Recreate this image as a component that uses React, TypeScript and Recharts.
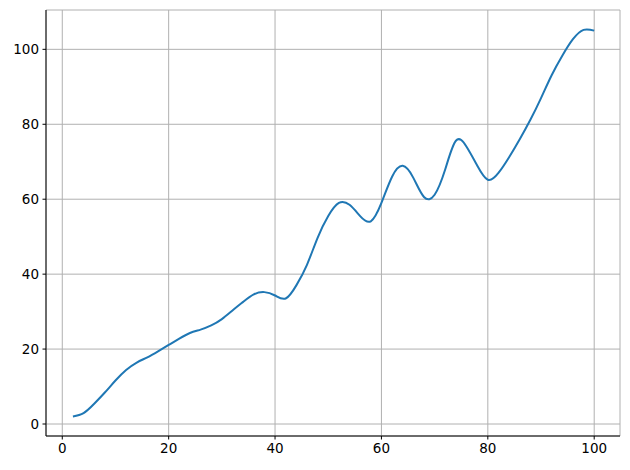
import React from "react";
import {
  LineChart, Line, XAxis, YAxis, CartesianGrid,
} from "recharts";

// sampled every 2 units along x
const xValues = [
  2, 4, 6, 8, 10, 12, 14, 16, 18, 20,
  22, 24, 26, 28, 30, 32, 34, 36, 38, 40,
  42, 44, 46, 48, 50, 52, 54, 56, 58, 60,
  62, 64, 66, 68, 70, 72, 74, 76, 78, 80,
  82, 84, 86, 88, 90, 92, 94, 96, 98, 100,
];
const yValues = [
  2.0, 2.9, 5.4, 8.4, 11.6, 14.4, 16.4, 17.8, 19.4, 21.1,
  22.8, 24.3, 25.2, 26.3, 28.0, 30.3, 32.6, 34.6, 35.2, 34.3,
  33.5, 37.0, 42.5, 49.7, 55.5, 59.0, 58.5, 55.5, 54.1, 59.0,
  66.0, 68.9, 65.7, 60.6, 61.2, 68.0, 75.6, 74.0, 69.0, 65.2,
  67.0, 71.2, 76.0, 81.2, 87.0, 93.1, 98.3, 102.7, 105.2, 105.0,
];
const xTicks = [0, 20, 40, 60, 80, 100];
const yTicks = [0, 20, 40, 60, 80, 100];

const data = xValues.map((x, i) => ({ x, y: yValues[i] }));

const tickStyle = { fontSize: 13.5, fill: "#000", fontFamily: "DejaVu Sans" };

export default function App() {
  return (
    <div style={{ position: "absolute", left: 0, top: 0, background: "#fff" }}>
      <LineChart
        width={630}
        height={470}
        data={data}
        margin={{ top: 10, right: 10, left: 0, bottom: 0 }}
      >
        <CartesianGrid stroke="#b0b0b0" strokeWidth={1} />
        <XAxis
          dataKey="x"
          type="number"
          domain={[-3.06, 104.85]}
          ticks={xTicks}
          allowDataOverflow
          height={34}
          tick={tickStyle}
          tickSize={3.5}
          tickMargin={3.5}
          axisLine={{ stroke: "#000", strokeWidth: 1 }}
          tickLine={{ stroke: "#000", strokeWidth: 1 }}
        />
        <XAxis
          xAxisId="top"
          orientation="top"
          dataKey="x"
          type="number"
          domain={[-3.06, 104.85]}
          height={0}
          tick={false}
          tickLine={false}
          axisLine={{ stroke: "#000", strokeWidth: 1 }}
        />
        <YAxis
          type="number"
          domain={[-3.2, 110.5]}
          ticks={yTicks}
          allowDataOverflow
          width={46}
          tick={tickStyle}
          tickSize={3.5}
          tickMargin={3.5}
          axisLine={{ stroke: "#000", strokeWidth: 1 }}
          tickLine={{ stroke: "#000", strokeWidth: 1 }}
        />
        <YAxis
          yAxisId="right"
          orientation="right"
          type="number"
          domain={[-3.2, 110.5]}
          width={0}
          tick={false}
          tickLine={false}
          axisLine={{ stroke: "#000", strokeWidth: 1 }}
        />
        <Line
          type="natural"
          dataKey="y"
          stroke="#1f77b4"
          strokeWidth={2}
          dot={false}
          isAnimationActive={false}
        />
      </LineChart>
    </div>
  );
}
